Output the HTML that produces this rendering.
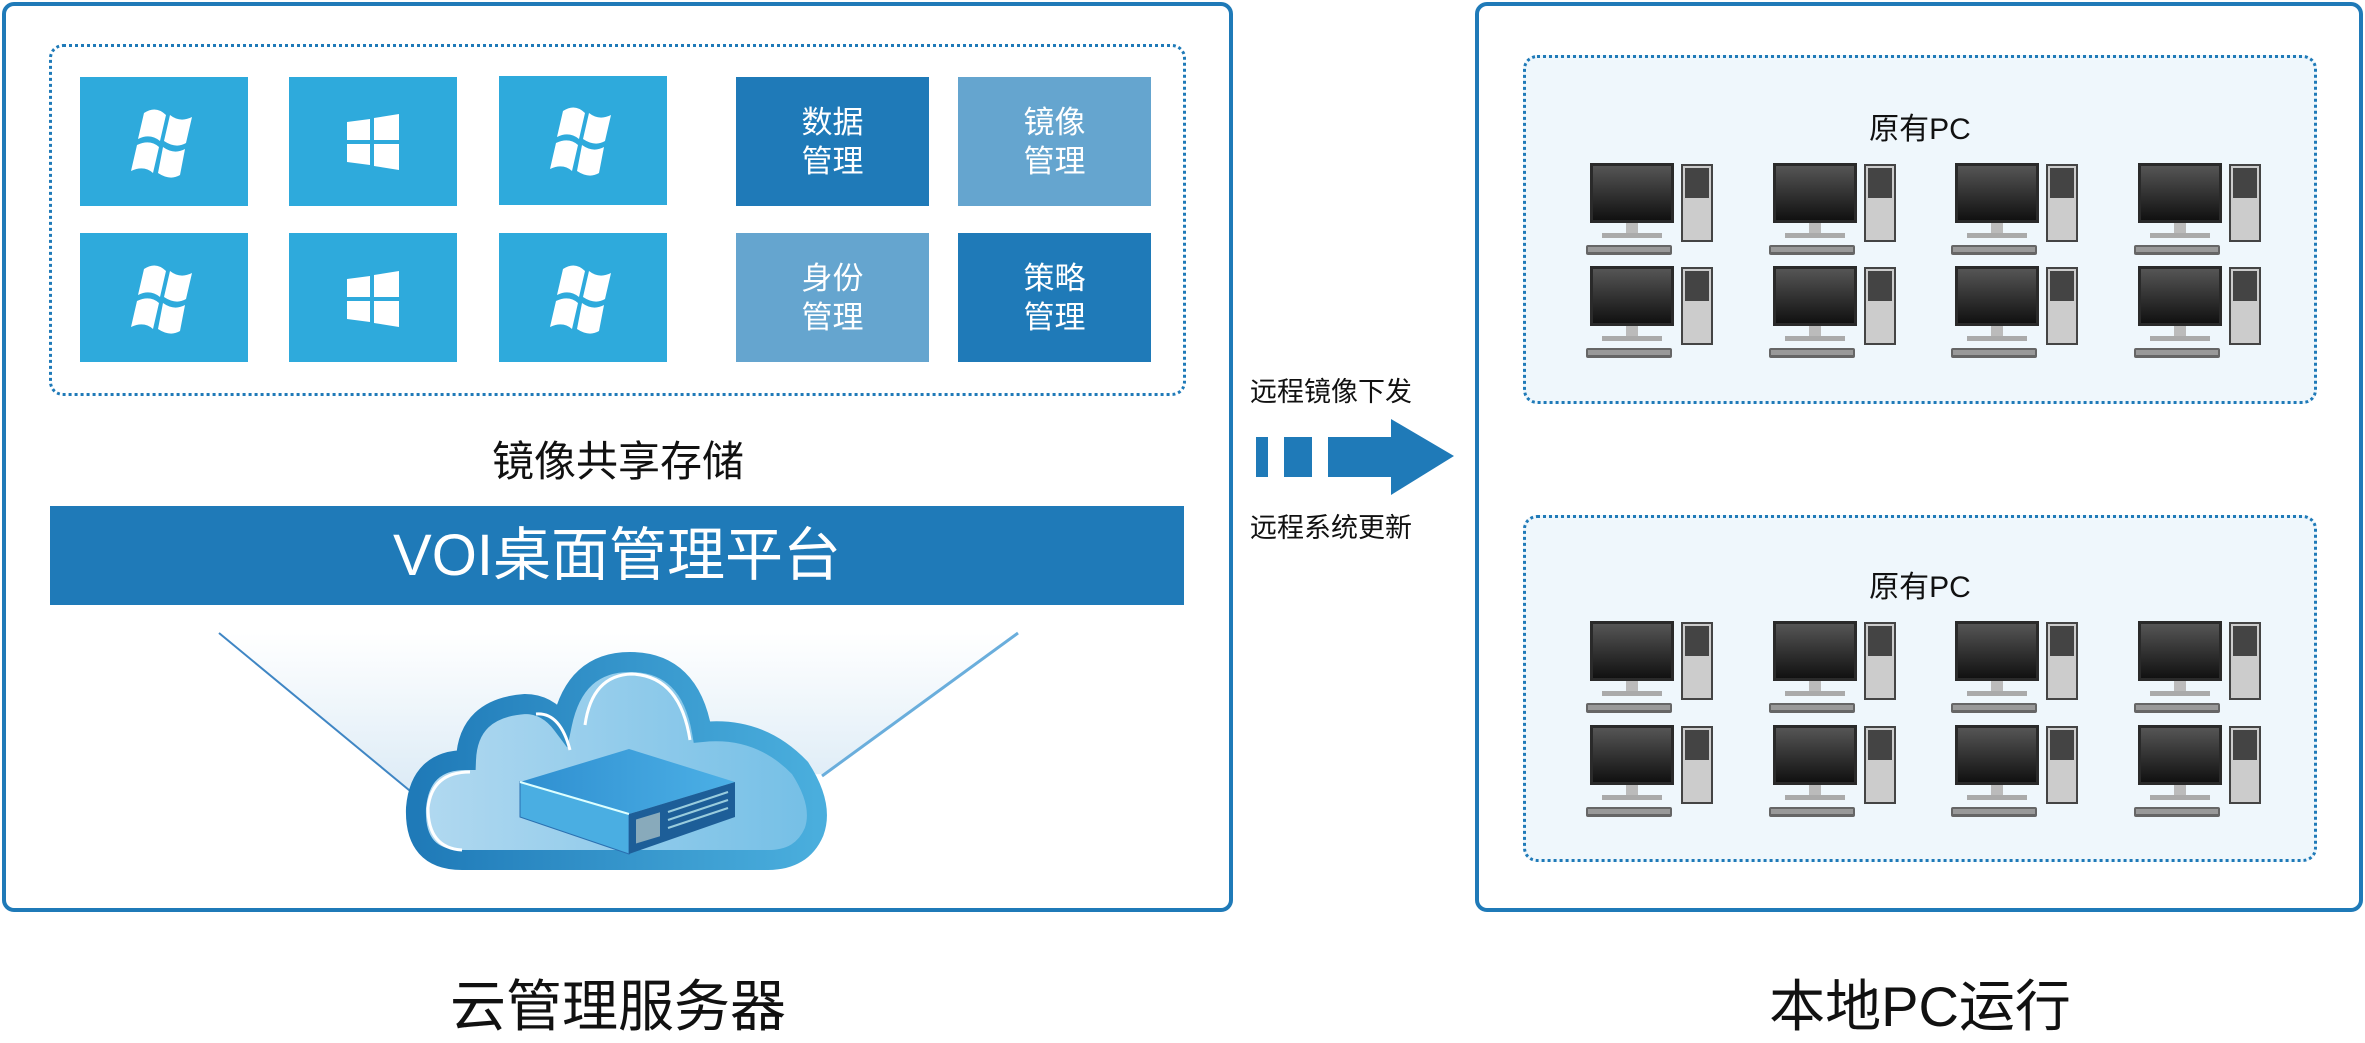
<!DOCTYPE html>
<html><head><meta charset="utf-8"><style>
body{margin:0;width:2365px;height:1032px;background:#fff;position:relative;overflow:hidden;font-family:"Liberation Sans","Noto Sans CJK SC",sans-serif}
.a{position:absolute}
.box{position:absolute;border:4px solid #1f7ab8;border-radius:12px;box-sizing:border-box;background:#fff}
.dash{position:absolute;border:3px dotted #1f7ab8;border-radius:14px;box-sizing:border-box}
.win{position:absolute;background:#2eaadc;width:168px;height:129px}
.mg{position:absolute;width:193px;height:129px;color:#fff;font-size:31px;line-height:39px;text-align:center;display:flex;align-items:center;justify-content:center}
.t{position:absolute;text-align:center;color:#111}
</style></head><body>
<svg width="0" height="0" style="position:absolute"><defs>
<g id="flag"><path d="M-20,-30 Q-8,-38 2,-28 L-4,-2 Q-14,-10 -26,-4 Z M6,-28 Q16,-20 28,-26 L22,0 Q12,6 0,-2 Z M-27,2 Q-14,-4 -5,4 L-11,30 Q-20,22 -33,28 Z M-1,4 Q10,12 21,6 L16,32 Q6,38 -6,30 Z" fill="#fff"/></g>
<g id="win8"><path d="M-26,-20 L-3,-23 L-3,-2 L-26,-2 Z M1,-24 L26,-28 L26,-2 L1,-2 Z M-26,2 L-3,2 L-3,23 L-26,20 Z M1,2 L26,2 L26,28 L1,24 Z" fill="#fff"/></g>
<g id="pc">
<linearGradient id="scr" x1="0" y1="0" x2="0" y2="1"><stop offset="0" stop-color="#555"/><stop offset="1" stop-color="#111"/></linearGradient>
<rect x="4" y="0" width="84" height="60" fill="#2a2a2a"/><rect x="7" y="3" width="78" height="54" fill="url(#scr)"/>
<rect x="40" y="60" width="12" height="10" fill="#bbb"/><rect x="16" y="70" width="60" height="5" fill="#aaa"/>
<rect x="96" y="2" width="30" height="76" fill="#ccc" stroke="#444" stroke-width="2"/><rect x="99" y="5" width="24" height="30" fill="#444"/>
<rect x="0" y="82" width="86" height="10" rx="2" fill="#666"/><rect x="2" y="84" width="82" height="5" fill="#999"/>
</g>
</defs></svg>

<div class="box" style="left:2px;top:2px;width:1231px;height:910px"></div>
<div class="dash" style="left:49px;top:44px;width:1137px;height:352px"></div>
<div class="win" style="left:80px;top:77px"></div><div class="win" style="left:289px;top:77px"></div><div class="win" style="left:499px;top:76px"></div>
<div class="win" style="left:80px;top:233px"></div><div class="win" style="left:289px;top:233px"></div><div class="win" style="left:499px;top:233px"></div>
<svg class="a" style="left:0;top:0" width="700" height="400">
<use href="#flag" x="164" y="143"/><use href="#win8" x="373" y="142"/><use href="#flag" x="583" y="141"/>
<use href="#flag" x="164" y="299"/><use href="#win8" x="373" y="299"/><use href="#flag" x="583" y="299"/>
</svg>
<div class="mg" style="left:736px;top:77px;background:#1f7ab8">数据<br>管理</div>
<div class="mg" style="left:958px;top:77px;background:#65a5cf">镜像<br>管理</div>
<div class="mg" style="left:736px;top:233px;background:#65a5cf">身份<br>管理</div>
<div class="mg" style="left:958px;top:233px;background:#1f7ab8">策略<br>管理</div>
<div class="t" style="left:300px;width:636px;top:428px;font-size:42px">镜像共享存储</div>
<div class="a" style="left:50px;top:506px;width:1134px;height:99px;background:#1f7ab8;color:#fff;font-size:58px;line-height:99px;text-align:center">VOI桌面管理平台</div>

<svg class="a" style="left:0;top:600px" width="1240" height="300">
<defs><linearGradient id="fun" x1="0" y1="0" x2="0" y2="1"><stop offset="0" stop-color="#fff"/><stop offset="1" stop-color="#dcebf6"/></linearGradient>
<linearGradient id="cl" x1="0" y1="0" x2="1" y2="0"><stop offset="0" stop-color="#b2d9f0"/><stop offset="1" stop-color="#74bfe6"/></linearGradient>
<linearGradient id="clb" x1="0" y1="0" x2="1" y2="0"><stop offset="0" stop-color="#1f7ab8"/><stop offset="1" stop-color="#4aaedd"/></linearGradient>
<linearGradient id="sv" x1="0" y1="0" x2="1" y2="0"><stop offset="0" stop-color="#2f8fd0"/><stop offset="1" stop-color="#4cb0e6"/></linearGradient></defs>
<polygon points="219,33 1018,33 822,174 412,192" fill="url(#fun)"/>
<line x1="219" y1="33" x2="415" y2="195" stroke="#3f86c4" stroke-width="2"/>
<line x1="1018" y1="33" x2="822" y2="176" stroke="#6aaedc" stroke-width="3"/>
<path d="M462,260 Q414,260 416,208 Q420,160 466,160 Q468,108 525,104 Q547,104 562,124 Q575,62 630,62 Q690,62 702,132 Q760,126 800,168 Q824,205 814,232 Q802,260 768,260 Z" fill="url(#cl)" stroke="url(#clb)" stroke-width="20"/>
<path d="M462,250 Q428,248 428,208 Q432,172 470,172 M536,114 Q560,112 570,150 M585,125 Q592,75 632,74 Q680,76 690,140" fill="none" stroke="#fff" stroke-width="3"/>
<polygon points="520,182 629,149 735,182 629,214" fill="url(#sv)"/>
<polygon points="520,182 629,214 629,254 520,217" fill="#4aaee2" stroke="#2a6fb0" stroke-width="1"/>
<polygon points="629,214 735,182 735,217 629,254" fill="#1d5e98"/>
<g stroke="#9cd" stroke-width="2"><line x1="668" y1="212" x2="728" y2="192"/><line x1="668" y1="220" x2="728" y2="200"/><line x1="668" y1="228" x2="728" y2="208"/></g>
<rect x="636" y="222" width="24" height="24" fill="#8ab" transform="skewY(-17) translate(0,192)"/>
<line x1="520" y1="182" x2="629" y2="214" stroke="#dff" stroke-width="2"/>
</svg>
<div class="t" style="left:300px;width:636px;top:962px;font-size:56px">云管理服务器</div>

<div class="a" style="left:1256px;top:437px;width:12px;height:40px;background:#1f7ab8"></div>
<div class="a" style="left:1284px;top:437px;width:28px;height:40px;background:#1f7ab8"></div>
<svg class="a" style="left:1326px;top:417px" width="132" height="80"><polygon points="2,20 65,20 65,2 128,39 65,78 65,60 2,60" fill="#1f7ab8"/></svg>
<div class="t" style="left:1250px;width:200px;top:370px;font-size:27px;text-align:left">远程镜像下发</div>
<div class="t" style="left:1250px;width:200px;top:506px;font-size:27px;text-align:left">远程系统更新</div>

<div class="box" style="left:1475px;top:2px;width:888px;height:910px"></div>
<div class="dash" style="left:1523px;top:55px;width:794px;height:349px;background:#eff7fc"></div>
<div class="dash" style="left:1523px;top:515px;width:794px;height:347px;background:#eff7fc"></div>
<div class="t" style="left:1720px;width:400px;top:104px;font-size:30px">原有PC</div>
<div class="t" style="left:1720px;width:400px;top:562px;font-size:30px">原有PC</div>
<svg class="a" style="left:0;top:0" width="2365" height="900">
<use href="#pc" x="1586" y="163"/><use href="#pc" x="1769" y="163"/><use href="#pc" x="1951" y="163"/><use href="#pc" x="2134" y="163"/>
<use href="#pc" x="1586" y="266"/><use href="#pc" x="1769" y="266"/><use href="#pc" x="1951" y="266"/><use href="#pc" x="2134" y="266"/>
<use href="#pc" x="1586" y="621"/><use href="#pc" x="1769" y="621"/><use href="#pc" x="1951" y="621"/><use href="#pc" x="2134" y="621"/>
<use href="#pc" x="1586" y="725"/><use href="#pc" x="1769" y="725"/><use href="#pc" x="1951" y="725"/><use href="#pc" x="2134" y="725"/>
</svg>
<div class="t" style="left:1720px;width:400px;top:962px;font-size:56px">本地PC运行</div>
</body></html>
